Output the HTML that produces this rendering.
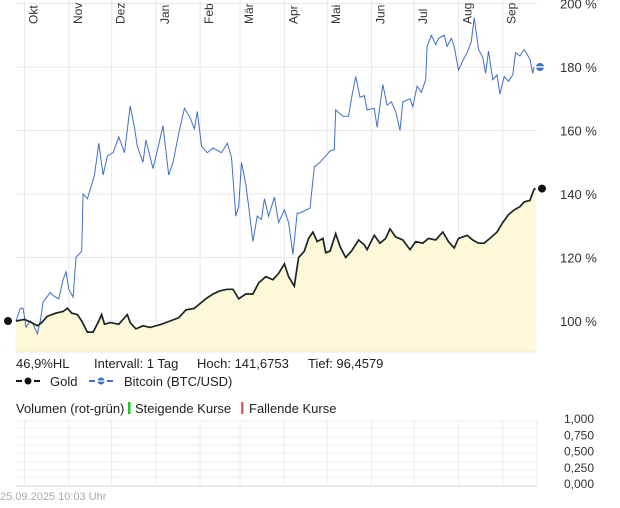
<!DOCTYPE html>
<html><head><meta charset="utf-8"><style>
body{margin:0;background:#fff;}
svg text{font-family:"Liberation Sans","DejaVu Sans",sans-serif;}
</style></head><body>
<svg id="c" width="620" height="503" xmlns="http://www.w3.org/2000/svg"></svg>
<script>
const monthLabels=["Okt","Nov","Dez","Jan","Feb","Mär","Apr","Mai","Jun","Jul","Aug","Sep"];
const monthDays=[6,37,67,98,129,157,188,218,249,279,310,341];
const yTicks=[100,120,140,160,180,200];
const volTicks=["1,000","0,750","0,500","0,250","0,000"];
const btcDays=[0,3,5,7,10,12,15,17,19,24,26,30,33,35,37,40,42,46,47,50,53,55,58,61,64,68,72,76,80,83,85,89,91,96,100,103,107,110,114,118,122,125,127,130,134,138,144,148,151,154,156,158,161,163,166,169,172,174,177,181,184,188,191,194,197,199,203,206,209,213,217,220,223,224,229,233,235,238,241,244,246,251,253,257,260,263,266,269,271,276,278,281,284,287,288,291,294,296,300,302,305,307,310,313,316,319,321,324,327,329,331,334,337,339,342,345,348,350,353,356,360,362,363];
const btcValues=[100,104,104,98,100,99,96,100,106,109,108,107,113,115.5,110,107.5,120,122,140,138.5,143,146,156,146,152,153,158,153,167.7,161,155,150,157,148,155.5,161.5,146,150,159,167,164,160.5,166,155,153,154.5,153,156,151.5,133,136,150,143,136,125,133,132,138.5,133,139,131,135,131,121,134,134,135,135.5,148.5,150,152,153.5,154,166.5,164.5,164.5,170,177,170.5,171,166.5,167,161,174.5,168,169,166,160,169,170,167.5,174,172,176,186.5,190,187,189,190,186.5,189,186.5,179,182,184.5,188,195.5,185.5,183,178,185,176,177.5,171.5,177,175.5,177.5,184.5,183.5,185.5,182.5,178,180];
const goldDays=[0,6,11,15,18,22,28,33,36,39,43,46,50,54,58,60,62,66,72,78,80,84,89,94,98,102,108,114,119,125,129,133,138,143,148,152,156,161,166,170,175,180,184,188,191,195,198,202,205,208,211,215,217,220,224,227,231,235,240,244,246,251,255,259,262,266,271,276,280,285,289,294,299,303,307,310,316,320,324,328,332,337,341,345,349,353,356,360,363,364];
const goldValues=[100,100.5,99.5,98.5,99.5,101.5,102.5,103,104,102.5,102,100,96.5,96.5,100,102,99,99.5,99,102,99.5,97.5,98.5,98,98.5,99,100,101,103.5,104,105.5,107,108.5,109.5,110,110,107,108.5,108.5,112,114,113,115,118,114,111,120,122,126,128,125,126,121.5,122,127.5,123.5,120,122,125.5,124,122.5,127,124.5,126,129,126.5,125.5,122.5,125,124.5,126,125.5,128,125,123,126,127,125.5,124.5,124.5,126,128,131,133.5,135,136,137.5,138,141.5,141.7];

const svg=document.getElementById('c');const NS='http://www.w3.org/2000/svg';
function mk(t,a,txt){const e=document.createElementNS(NS,t);for(const k in a)e.setAttribute(k,a[k]);if(txt!=null)e.textContent=txt;svg.appendChild(e);return e;}
const X0=16,X1=537,PB=352;
const xS=d=>X0+d*(X1-X0)/365;
const yS=v=>321-(v-100)*3.175;
for(const v of yTicks){let g=mk('line',{x1:X0,x2:X1,y1:yS(v),y2:yS(v),stroke:'#e8e8e8','stroke-width':1});


let t=mk('text',{x:560,y:yS(v)+5,'font-size':13,fill:'#333'},v+' %');

}
for(let i=0;i<monthDays.length;i++){const x=xS(monthDays[i]);
let g=mk('line',{x1:x,x2:x,y1:0,y2:PB,stroke:'#e8e8e8','stroke-width':1});


let t=mk('text',{transform:`translate(${x+13},${24}) rotate(-90)`,'font-size':12,fill:'#333'},monthLabels[i]);

}
let gp=goldDays.map((d,i)=>xS(d).toFixed(1)+','+yS(goldValues[i]).toFixed(1)).join(' L');
let area=mk('path',{d:`M${xS(goldDays[0])},${PB} L${gp} L${xS(goldDays[goldDays.length-1])},${PB} Z`,fill:'#fdf9d8'});


mk('line',{x1:X0,x2:X1,y1:PB,y2:PB,stroke:'#f0ecd0'});
let bp=btcDays.map((d,i)=>xS(d).toFixed(1)+','+yS(btcValues[i]).toFixed(1)).join(' L');
let bl=mk('path',{d:'M'+bp,fill:'none',stroke:'#3f6fc8','stroke-width':1});


let gl=mk('path',{d:'M'+gp,fill:'none',stroke:'#1a2424','stroke-width':1.7});


let gLast=goldValues[goldValues.length-1];
let m1=mk('circle',{cx:8,cy:yS(goldValues[0]),r:4,fill:'#111'});


let m2=mk('circle',{cx:542,cy:yS(gLast),r:4,fill:'#111'});


let bLast=btcValues[btcValues.length-1];
let m3=mk('circle',{cx:540,cy:yS(bLast),r:4,fill:'#3f6fc8'});


mk('rect',{x:535,y:yS(bLast)-0.7,width:10,height:1.4,fill:'#fff'});
const info=[[16,'46,9%HL'],[94,'Intervall: 1 Tag'],[197,'Hoch: 141,6753'],[308,'Tief: 96,4579']];
for(const [x,s] of info){let t=mk('text',{x:x,y:368,'font-size':13,fill:'#222'},s);

}
mk('line',{x1:16,x2:40,y1:381,y2:381,stroke:'#111','stroke-width':2,'stroke-dasharray':'6,3'});
mk('circle',{cx:28,cy:381,r:3.5,fill:'#111'});
let lg=mk('text',{x:50,y:386,'font-size':13,fill:'#222'},'Gold');


mk('line',{x1:89,x2:114,y1:381,y2:381,stroke:'#3f6fc8','stroke-width':2,'stroke-dasharray':'6,3'});
mk('circle',{cx:101,cy:381,r:3.5,fill:'#3f6fc8'});
mk('rect',{x:96,y:380.4,width:10,height:1.2,fill:'#fff'});
let lb=mk('text',{x:124,y:386,'font-size':13,fill:'#222'},'Bitcoin (BTC/USD)');


let vt=mk('text',{x:16,y:413,'font-size':13,fill:'#222'},'Volumen (rot-grün)');


mk('rect',{x:128,y:402,width:2.5,height:12,fill:'#22c422'});
let st=mk('text',{x:135,y:413,'font-size':13,fill:'#222'},'Steigende Kurse');


mk('rect',{x:241,y:402,width:2.5,height:12,fill:'#f05a5a'});
let ft=mk('text',{x:249,y:413,'font-size':13,fill:'#222'},'Fallende Kurse');


const vLines=[421,428,437,445,453,462,470,477,486];
for(const y of vLines) mk('line',{x1:X0,x2:X1,y1:y,y2:y,stroke:'#ececec'});
for(const d of monthDays) mk('line',{x1:xS(d),x2:xS(d),y1:421,y2:486,stroke:'#ececec'});
mk('line',{x1:X1,x2:X1,y1:421,y2:486,stroke:'#ececec'});
mk('line',{x1:X0,x2:X1,y1:486,y2:486,stroke:'#e2e2e2','stroke-width':1.5});
for(let i=0;i<volTicks.length;i++){let t=mk('text',{x:564,y:423+i*16.3,'font-size':12,fill:'#333'},volTicks[i]);

}
let ts=mk('text',{x:0,y:500,'font-size':11,fill:'#aaa'},'25.09.2025 10:03 Uhr');


</script>
</body></html>
